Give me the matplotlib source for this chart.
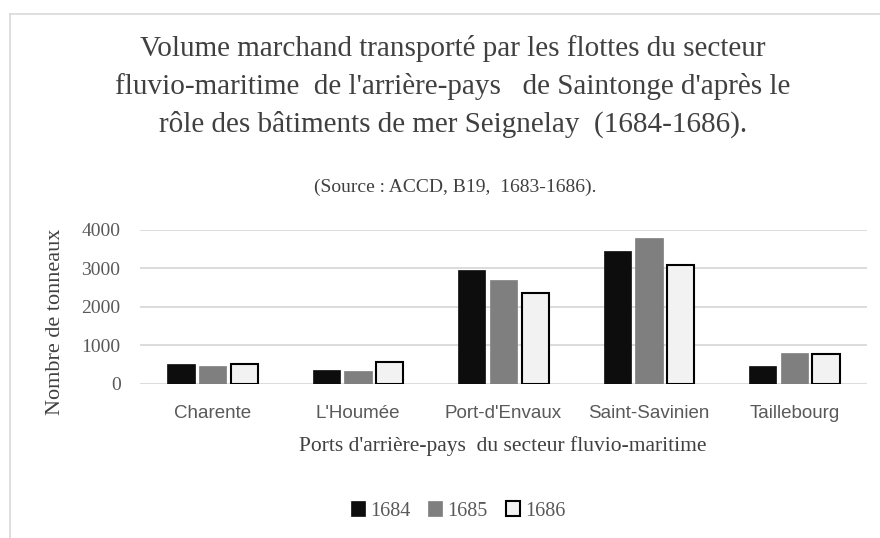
#!/usr/bin/env python3
"""
Volume marchand transporté par les flottes du secteur fluvio-maritime (1684-1686)
"""
import numpy as np
import matplotlib
matplotlib.use("Agg")
import matplotlib.pyplot as plt
from matplotlib.lines import Line2D
from matplotlib.patches import Patch

# ===== données =====
ports = ["Charente", "L'Houmée", "Port-d'Envaux", "Saint-Savinien", "Taillebourg"]
years = ["1684", "1685", "1686"]
vol_1684 = [505, 357, 2970, 3465, 453]
vol_1685 = [453, 330, 2690, 3800, 790]
vol_1686 = [505, 565, 2355, 3090, 775]
y_ticks = [0, 1000, 2000, 3000, 4000]

SERIF = ["Liberation Serif", "DejaVu Serif"]
SANS = ["Liberation Sans Narrow", "Liberation Sans", "DejaVu Sans"]
TXT = "#404040"


def main():
    fig = plt.figure(figsize=(8.8, 5.38), dpi=100)
    W, H = 880, 538
    ax = fig.add_axes([140 / W, 1 - 383.7 / H, (867 - 140) / W, (383.7 - 230) / H])

    x = np.arange(len(ports))
    step = 0.218
    bw = 0.188
    series = [
        (vol_1684, "#0d0d0d", "#0d0d0d", 0.5),
        (vol_1685, "#7f7f7f", "#7f7f7f", 0.5),
        (vol_1686, "#f2f2f2", "#000000", 1.5),
    ]
    for i, (vals, fc, ec, lw) in enumerate(series):
        ax.bar(x + (i - 1) * step, vals, width=bw, color=fc, edgecolor=ec,
               linewidth=lw, zorder=3, label=years[i])

    ax.set_xlim(-0.5, len(ports) - 0.5)
    ax.set_ylim(0, 4000)
    ax.set_yticks(y_ticks)
    ax.set_yticklabels([str(t) for t in y_ticks], family=SERIF, fontsize=14, color="#595959")
    ax.set_xticks(x)
    ax.set_xticklabels(ports, family=SANS, fontsize=13.5, color="#595959")
    ax.tick_params(axis="x", length=0, pad=15)
    ax.tick_params(axis="y", length=0, pad=14)
    ax.grid(axis="y", color="#d9d9d9", linewidth=1.3, zorder=0)
    for s in ax.spines.values():
        s.set_visible(False)

    fig.text(56 / W, 1 - 322 / H, "Nombre de tonneaux", rotation=90, ha="center", va="center",
             family=SERIF, fontsize=16, color=TXT)
    fig.text(503 / W, 1 - 446 / H, "Ports d'arrière-pays  du secteur fluvio-maritime",
             ha="center", va="center", family=SERIF, fontsize=15.5, color=TXT)

    title = ["Volume marchand transporté par les flottes du secteur",
             "fluvio-maritime  de l'arrière-pays   de Saintonge d'après le",
             "rôle des bâtiments de mer Seignelay  (1684-1686)."]
    for k, line in enumerate(title):
        fig.text(453 / W, 1 - (49 + 37.5 * k) / H, line, ha="center", va="center",
                 family=SERIF, fontsize=21, color=TXT)
    fig.text(455 / W, 1 - 187 / H, "(Source : ACCD, B19,  1683-1686).", ha="center", va="center",
             family=SERIF, fontsize=14, color=TXT)

    handles = [
        Patch(facecolor="#0d0d0d", edgecolor="#0d0d0d", linewidth=0.5),
        Patch(facecolor="#7f7f7f", edgecolor="#7f7f7f", linewidth=0.5),
        Patch(facecolor="#f2f2f2", edgecolor="#000000", linewidth=1.5),
    ]
    leg = fig.legend(handles, years, loc="center", bbox_to_anchor=(458 / W, 1 - 511 / H),
                     ncol=3, frameon=False, handlelength=0.7, handleheight=0.7,
                     handletextpad=0.25, columnspacing=0.9, prop={"family": SERIF, "size": 14.5})
    for t in leg.get_texts():
        t.set_color("#595959")

    # cadre du graphique
    fig.add_artist(Line2D([10 / W, 10 / W], [0, 1 - 14 / H], transform=fig.transFigure,
                          color="#d9d9d9", linewidth=1.2))
    fig.add_artist(Line2D([10 / W, 1], [1 - 14 / H, 1 - 14 / H], transform=fig.transFigure,
                          color="#d9d9d9", linewidth=1.2))

    fig.savefig("out.png", dpi=100)
    plt.close(fig)


if __name__ == "__main__":
    main()
